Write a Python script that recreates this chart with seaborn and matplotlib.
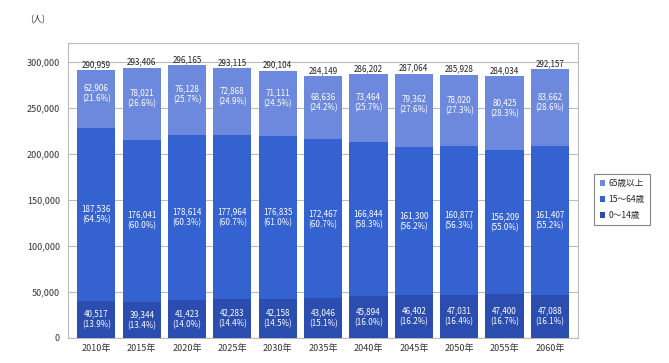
import matplotlib
matplotlib.use("Agg")
import matplotlib.pyplot as plt
import seaborn as sns
import pandas as pd
import numpy as np

sns.set_style("white")
plt.rcParams["font.family"] = ["Noto Sans CJK JP", "DejaVu Sans"]

years = ["2010年", "2015年", "2020年", "2025年", "2030年", "2035年",
         "2040年", "2045年", "2050年", "2055年", "2060年"]
age_0_14 = [40517, 39344, 41423, 42283, 42158, 43046,
            45894, 46402, 47031, 47400, 47088]
age_15_64 = [187536, 176041, 178614, 177964, 176835, 172467,
             166844, 161300, 160877, 156209, 161407]
age_65_over = [62906, 78021, 76128, 72868, 71111, 68636,
               73464, 79362, 78020, 80425, 83662]
series_names = ["65歳以上", "15～64歳", "0～14歳"]
colors = {"65歳以上": "#6D89DE", "15～64歳": "#3462D0", "0～14歳": "#2B4DAF"}

df = pd.DataFrame({"year": years, "a": age_0_14, "b": age_15_64, "c": age_65_over})
df["cum_b"] = df["a"] + df["b"]
df["total"] = df["cum_b"] + df["c"]

fig = plt.figure(figsize=(6.69, 3.63), dpi=100)
ax = fig.add_axes([0.102, 0.069, 0.762, 0.812])

width = 0.84
bar_kw = dict(width=width, saturation=1, ax=ax, linewidth=0, edgecolor="none")
sns.barplot(data=df, x="year", y="total", color=colors["65歳以上"], zorder=2,
            label=series_names[0], **bar_kw)
sns.barplot(data=df, x="year", y="cum_b", color=colors["15～64歳"], zorder=3,
            label=series_names[1], **bar_kw)
sns.barplot(data=df, x="year", y="a", color=colors["0～14歳"], zorder=4,
            label=series_names[2], **bar_kw)
if ax.get_legend() is not None:
    ax.get_legend().remove()

ax.set_ylim(0, 320000)
ax.set_xlim(-0.62, 10.62)
ax.set_yticks(np.arange(0, 300001, 50000))
ax.set_yticklabels([f"{v:,}" for v in range(0, 300001, 50000)], fontsize=6.5, color="#333333")
ax.tick_params(axis="x", labelsize=6.5, colors="#333333", length=0, pad=4)
ax.tick_params(axis="y", length=0, pad=6)
ax.set_xlabel("")
ax.set_ylabel("")
ax.yaxis.grid(True, color="#BBBBBB", linewidth=0.8, zorder=0)
ax.set_axisbelow(True)
for s in ax.spines.values():
    s.set_color("#BBBBBB")
    s.set_linewidth(0.8)

lab_kw = dict(ha="center", va="center", color="white", fontsize=5.8, zorder=6,
              linespacing=1.25)
for i, row in df.iterrows():
    a, b, c, t = row["a"], row["b"], row["c"], row["total"]
    ax.text(i, a / 2, f"{a:,}\n({a / t * 100:.1f}%)", **lab_kw)
    ax.text(i, a + b / 2, f"{b:,}\n({b / t * 100:.1f}%)", **lab_kw)
    ax.text(i, a + b + c / 2 + 6000, f"{c:,}\n({c / t * 100:.1f}%)", **lab_kw)
    ax.text(i, t + 6000, f"{t:,}", ha="center", va="center", fontsize=5.8,
            color="#222222", zorder=6)

fig.text(0.045, 0.945, "(人)", fontsize=6.5, color="#333333", ha="left", va="center")

handles, labels = ax.get_legend_handles_labels()
leg = fig.legend(handles, labels, loc="center left", bbox_to_anchor=(0.882, 0.45),
                 fontsize=6.2, frameon=True, fancybox=False, edgecolor="#666666",
                 handlelength=0.6, handleheight=0.6, handletextpad=0.4,
                 borderpad=0.6, labelspacing=0.8)
leg.get_frame().set_linewidth(0.8)

fig.savefig("out.png", dpi=100)
